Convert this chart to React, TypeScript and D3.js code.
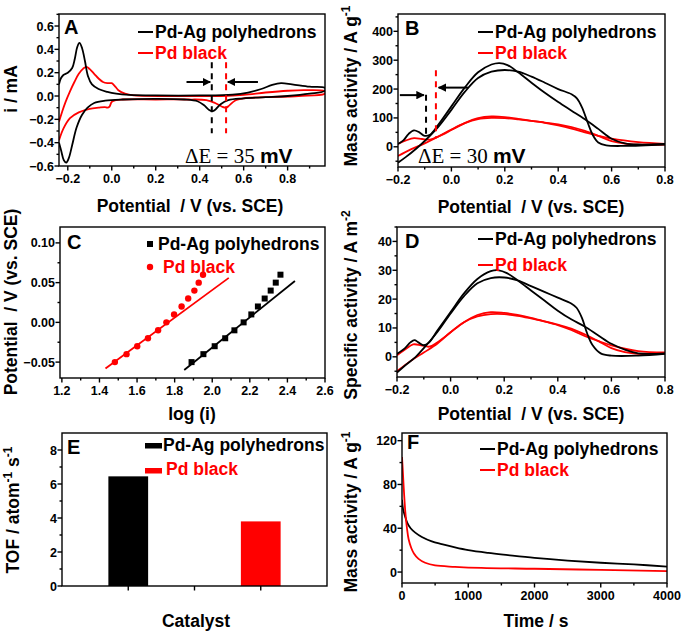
import React from "react";
import * as d3 from "d3";

type Pt = [number, number];

// ---------- A: cyclic voltammograms (i / mA vs potential)
const cvAgA: Pt[] = [
  [-0.24, 0.1], [-0.232, 0.15], [-0.22, 0.18], [-0.2, 0.2], [-0.18, 0.24], [-0.168, 0.32], [-0.157, 0.42],
  [-0.147, 0.455], [-0.135, 0.41], [-0.122, 0.3], [-0.108, 0.17], [-0.09, 0.1], [-0.06, 0.06], [-0.02, 0.035],
  [0.02, 0.02], [0.08, 0.01], [0.2, 0.005], [0.4, 0.005], [0.55, 0.012], [0.62, 0.03], [0.68, 0.06],
  [0.73, 0.095], [0.77, 0.11], [0.82, 0.1], [0.9, 0.08], [0.97, 0.07],
  [0.97, 0.045], [0.9, 0.02], [0.8, 0.0], [0.7, -0.01], [0.6, -0.02], [0.53, -0.035], [0.495, -0.07],
  [0.472, -0.115], [0.458, -0.13], [0.443, -0.12], [0.42, -0.08], [0.39, -0.045], [0.33, -0.03],
  [0.2, -0.025], [0.05, -0.03], [-0.03, -0.04], [-0.08, -0.06], [-0.11, -0.1], [-0.135, -0.16],
  [-0.16, -0.27], [-0.18, -0.42], [-0.195, -0.53], [-0.207, -0.57], [-0.218, -0.55], [-0.23, -0.47],
  [-0.24, -0.4],
];
const cvPdA: Pt[] = [
  [-0.24, -0.22], [-0.225, -0.13], [-0.21, -0.05], [-0.19, 0.04], [-0.17, 0.12], [-0.15, 0.19],
  [-0.13, 0.235], [-0.115, 0.25], [-0.1, 0.23], [-0.08, 0.19], [-0.06, 0.15], [-0.04, 0.12], [-0.02, 0.11],
  [0.0, 0.11], [0.012, 0.09], [0.03, 0.05], [0.06, 0.02], [0.1, 0.005], [0.3, 0.0], [0.5, 0.0], [0.6, 0.01],
  [0.7, 0.03], [0.8, 0.045], [0.88, 0.05], [0.97, 0.04],
  [0.97, 0.02], [0.85, 0.0], [0.7, -0.01], [0.6, -0.02], [0.56, -0.04], [0.535, -0.08], [0.52, -0.1],
  [0.5, -0.09], [0.47, -0.06], [0.43, -0.035], [0.35, -0.03], [0.2, -0.03], [0.05, -0.03], [0.02, -0.035],
  [0.0, -0.05], [-0.01, -0.09], [-0.02, -0.1], [-0.03, -0.095], [-0.06, -0.1], [-0.1, -0.11],
  [-0.15, -0.14], [-0.19, -0.19], [-0.22, -0.28], [-0.24, -0.38],
];

// ---------- B: mass activity vs potential
const maAgFwd: Pt[] = [
  [-0.2, 10], [-0.18, 22], [-0.16, 45], [-0.14, 57], [-0.12, 50], [-0.1, 38], [-0.08, 42], [-0.05, 75],
  [0.0, 140], [0.05, 205], [0.1, 258], [0.15, 285], [0.18, 290], [0.21, 283], [0.25, 258], [0.3, 222],
  [0.35, 187], [0.4, 155], [0.45, 125], [0.5, 95], [0.55, 62], [0.6, 28], [0.65, 12], [0.7, 8], [0.8, 10],
];
const maAgBwd: Pt[] = [
  [-0.2, -55], [-0.17, -35], [-0.13, -5], [-0.1, 20], [-0.05, 68], [0.0, 128], [0.05, 190], [0.1, 238],
  [0.15, 260], [0.2, 266], [0.25, 260], [0.3, 243], [0.35, 222], [0.4, 200], [0.45, 182], [0.47, 168],
  [0.49, 135], [0.51, 85], [0.53, 40], [0.55, 15], [0.58, 5], [0.65, 3], [0.8, 8],
];
const maPdFwd: Pt[] = [
  [-0.2, 10], [-0.17, 22], [-0.14, 30], [-0.11, 27], [-0.08, 25], [-0.05, 35], [0.0, 58], [0.05, 82],
  [0.1, 99], [0.15, 105], [0.2, 103], [0.25, 97], [0.3, 90], [0.35, 83], [0.4, 74], [0.45, 63], [0.5, 50],
  [0.55, 38], [0.6, 28], [0.7, 16], [0.8, 10],
];
const maPdBwd: Pt[] = [
  [-0.2, -32], [-0.15, -8], [-0.1, 12], [-0.05, 35], [0.0, 60], [0.05, 82], [0.1, 96], [0.15, 100],
  [0.2, 99], [0.25, 95], [0.3, 90], [0.35, 84], [0.4, 78], [0.45, 68], [0.5, 55], [0.55, 38], [0.6, 20],
  [0.65, 11], [0.7, 7], [0.8, 8],
];

// ---------- C: Tafel plots
const tafelY = [-0.05, -0.04, -0.03, -0.02, -0.01, 0.0, 0.01, 0.02, 0.03, 0.04, 0.05, 0.06];
const tafelAgX = [1.89, 1.953, 2.013, 2.069, 2.118, 2.167, 2.208, 2.243, 2.279, 2.311, 2.338, 2.363];
const tafelPdX = [1.482, 1.544, 1.601, 1.658, 1.712, 1.756, 1.797, 1.837, 1.872, 1.905, 1.928, 1.951];
const fitAg: Pt[] = [[1.851, -0.06], [2.44, 0.052]];
const fitPd: Pt[] = [[1.432, -0.058], [2.088, 0.056]];

// ---------- D: specific activity vs potential
const saAgFwd: Pt[] = [
  [-0.2, 1], [-0.17, 3], [-0.15, 5], [-0.135, 5.8], [-0.12, 5], [-0.1, 4], [-0.08, 5], [-0.05, 9],
  [0.0, 15.5], [0.05, 22], [0.1, 27], [0.15, 29.7], [0.18, 30], [0.21, 29], [0.25, 26.5], [0.3, 23],
  [0.35, 19.5], [0.4, 16], [0.45, 13], [0.5, 10.5], [0.55, 7.5], [0.6, 4.5], [0.65, 2.5], [0.7, 1.2], [0.8, 1.2],
];
const saAgBwd: Pt[] = [
  [-0.2, -5.5], [-0.17, -3], [-0.13, 0], [-0.1, 3], [-0.05, 8.5], [0.0, 15], [0.05, 21], [0.1, 25.5],
  [0.15, 27.3], [0.2, 27.5], [0.25, 26.5], [0.3, 24.5], [0.35, 22.5], [0.4, 20.5], [0.45, 18.5], [0.47, 17],
  [0.49, 13.5], [0.51, 8], [0.53, 4], [0.56, 1.2], [0.6, 0.4], [0.7, 0.4], [0.8, 1],
];
const saPdFwd: Pt[] = [
  [-0.2, 0.5], [-0.17, 2.5], [-0.14, 4.3], [-0.11, 4], [-0.08, 3.5], [-0.05, 5], [0.0, 8.5], [0.05, 12],
  [0.1, 14.5], [0.15, 15.5], [0.2, 15.2], [0.25, 14.5], [0.3, 13.5], [0.35, 12.3], [0.4, 11], [0.45, 9.3],
  [0.5, 7.2], [0.55, 5.5], [0.6, 4], [0.7, 2], [0.8, 1.5],
];
const saPdBwd: Pt[] = [
  [-0.2, -5], [-0.15, -1.5], [-0.1, 1.5], [-0.05, 4.5], [0.0, 8.5], [0.05, 12], [0.1, 14], [0.15, 14.8],
  [0.2, 14.8], [0.25, 14.2], [0.3, 13.3], [0.35, 12.3], [0.4, 11.2], [0.45, 9.8], [0.5, 7.8], [0.55, 5.5],
  [0.6, 3], [0.65, 1.6], [0.7, 1], [0.8, 1.2],
];

// ---------- E: TOF bars
const tofCats = ["Pd-Ag polyhedrons", "Pd black"];
const tofVals = [6.45, 3.8];
const tofPos = [1, 3];

// ---------- F: chronoamperometry
const caAg: Pt[] = [
  [0, 66], [15, 58], [40, 52], [80, 45], [130, 40], [200, 36], [300, 32], [450, 28], [600, 25.5],
  [800, 22.5], [1000, 20], [1300, 17.5], [1600, 15.5], [2000, 13], [2500, 10.5], [3000, 8.5], [3500, 7], [4000, 5],
];
const caPd: Pt[] = [
  [0, 105], [10, 95], [25, 78], [50, 55], [75, 40], [100, 30], [140, 22], [180, 17], [250, 12], [350, 8.5],
  [500, 6], [800, 4.8], [1200, 3.8], [2000, 3], [3000, 2], [4000, 0.8],
];

const potTicks = [-0.2, 0, 0.2, 0.4, 0.6, 0.8];

const FONT = "'Liberation Sans', Arial, Helvetica, sans-serif";
const RED = "#ff0000";
const LW = 1.8;

interface Box { l: number; r: number; t: number; b: number }

function minors(domain: number[], step: number) {
  const [a, b] = domain;
  const start = Math.ceil(a / step - 1e-9) * step;
  return d3.range(start, b + 1e-9, step);
}

function Frame(props: any) {
  const { id, box, x, y, xTicks, yTicks, xMinor, yMinor, xFmt, yFmt, children } = props;
  const sw = 1.4;
  return (
    <g>
      <clipPath id={id}>
        <rect x={box.l} y={box.t} width={box.r - box.l} height={box.b - box.t} />
      </clipPath>
      <g clipPath={`url(#${id})`}>{children}</g>
      <rect x={box.l} y={box.t} width={box.r - box.l} height={box.b - box.t} fill="none" stroke="#000" strokeWidth={sw} />
      {xMinor.map((v: number, i: number) => (
        <line key={"xm" + i} x1={x(v)} x2={x(v)} y1={box.b} y2={box.b + 2.5} stroke="#000" strokeWidth={sw} />
      ))}
      {xTicks.map((v: number, i: number) => (
        <line key={"xt" + i} x1={x(v)} x2={x(v)} y1={box.b} y2={box.b + 4.5} stroke="#000" strokeWidth={sw} />
      ))}
      {yMinor.map((v: number, i: number) => (
        <line key={"ym" + i} x1={box.l - 2.5} x2={box.l} y1={y(v)} y2={y(v)} stroke="#000" strokeWidth={sw} />
      ))}
      {yTicks.map((v: number, i: number) => (
        <line key={"yt" + i} x1={box.l - 4.5} x2={box.l} y1={y(v)} y2={y(v)} stroke="#000" strokeWidth={sw} />
      ))}
      {xFmt &&
        xTicks.map((v: number, i: number) => (
          <text key={"xl" + i} x={x(v)} y={box.b + 17} textAnchor="middle" fontSize={12.5} fontWeight="bold">
            {xFmt(v)}
          </text>
        ))}
      {yTicks.map((v: number, i: number) => (
        <text key={"yl" + i} x={box.l - 5} y={y(v)} dy="0.36em" textAnchor="end" fontSize={12.5} fontWeight="bold">
          {yFmt(v)}
        </text>
      ))}
    </g>
  );
}

function LineLegend({ x, y, label, color }: any) {
  return (
    <g>
      <line x1={x} x2={x + 15} y1={y} y2={y} stroke={color} strokeWidth={2} />
      <text x={x + 17} y={y + 6} fontSize={17.5} fontWeight="bold" fill={color}>{label}</text>
    </g>
  );
}

function YTitle({ x, y, children }: any) {
  return (
    <text transform={`translate(${x},${y}) rotate(-90)`} textAnchor="middle" fontSize={17.5} fontWeight="bold" style={{ whiteSpace: "pre" }}>
      {children}
    </text>
  );
}

function XTitle({ x, y, children }: any) {
  return (
    <text x={x} y={y} textAnchor="middle" fontSize={17.5} fontWeight="bold" style={{ whiteSpace: "pre" }}>
      {children}
    </text>
  );
}

function Letter({ x, y, children }: any) {
  return <text x={x} y={y} fontSize={20} fontWeight="bold">{children}</text>;
}

const fmt1 = d3.format(".1f");
const fmt2 = d3.format(".2f");
const fmt0 = d3.format("d");

export default function App() {
  const curve = d3.curveCatmullRom.alpha(0.5);

  // A
  const boxA: Box = { l: 59, r: 325, t: 14, b: 166 };
  const xA = d3.scaleLinear().domain([-0.24, 0.97]).range([boxA.l, boxA.r]);
  const yA = d3.scaleLinear().domain([-0.6, 0.703]).range([boxA.b, boxA.t]);
  const lineA = d3.line<Pt>().x((d) => xA(d[0])).y((d) => yA(d[1])).curve(curve);

  // B
  const boxB: Box = { l: 398, r: 665, t: 14, b: 167 };
  const xB = d3.scaleLinear().domain([-0.2, 0.8]).range([boxB.l, boxB.r]);
  const yB = d3.scaleLinear().domain([-70, 460]).range([boxB.b, boxB.t]);
  const lineB = d3.line<Pt>().x((d) => xB(d[0])).y((d) => yB(d[1])).curve(curve);

  // C
  const boxC: Box = { l: 60, r: 325, t: 227, b: 378 };
  const xC = d3.scaleLinear().domain([1.19, 2.6]).range([boxC.l, boxC.r]);
  const yC = d3.scaleLinear().domain([-0.07, 0.12]).range([boxC.b, boxC.t]);
  const lineC = d3.line<Pt>().x((d) => xC(d[0])).y((d) => yC(d[1]));

  // D
  const boxD: Box = { l: 397, r: 665, t: 227, b: 377 };
  const xD = d3.scaleLinear().domain([-0.2, 0.8]).range([boxD.l, boxD.r]);
  const yD = d3.scaleLinear().domain([-7, 45]).range([boxD.b, boxD.t]);
  const lineD = d3.line<Pt>().x((d) => xD(d[0])).y((d) => yD(d[1])).curve(curve);

  // E
  const boxE: Box = { l: 62, r: 327, t: 433, b: 586 };
  const xE = d3.scaleLinear().domain([0, 4]).range([boxE.l, boxE.r]);
  const yE = d3.scaleLinear().domain([0, 9]).range([boxE.b, boxE.t]);
  const barW = 0.6;

  // F
  const boxF: Box = { l: 402, r: 667, t: 433, b: 583 };
  const xF = d3.scaleLinear().domain([0, 4000]).range([boxF.l, boxF.r]);
  const yF = d3.scaleLinear().domain([-10, 127]).range([boxF.b, boxF.t]);
  const lineF = d3.line<Pt>().x((d) => xF(d[0])).y((d) => yF(d[1])).curve(curve);

  const within = (arr: number[], ticks: number[]) => arr.filter((v) => !ticks.some((t) => Math.abs(t - v) < 1e-6));

  return (
    <svg width={685} height={633} style={{ position: "absolute", left: 0, top: 0, background: "#fff" }} fontFamily={FONT}>
      <defs>
        <marker id="ah" viewBox="0 0 10 10" refX="9" refY="5" markerWidth="4.2" markerHeight="4.2" markerUnits="strokeWidth" orient="auto">
          <path d="M0,0 L10,5 L0,10 z" fill="#000" />
        </marker>
      </defs>
      <rect width={685} height={633} fill="#fff" />

      {/* ---------- Panel A ---------- */}
      <Frame id="cA" box={boxA} x={xA} y={yA} xTicks={potTicks} yTicks={[-0.6, -0.4, -0.2, 0, 0.2, 0.4, 0.6]}
        xMinor={within(minors([-0.24, 0.97], 0.1), potTicks)} yMinor={within(minors([-0.6, 0.7], 0.1), [-0.6, -0.4, -0.2, 0, 0.2, 0.4, 0.6])}
        xFmt={fmt1} yFmt={fmt1}>
        <path d={lineA(cvPdA) || ""} fill="none" stroke={RED} strokeWidth={LW} />
        <path d={lineA(cvAgA) || ""} fill="none" stroke="#000" strokeWidth={LW} />
        <line x1={xA(0.455)} x2={xA(0.455)} y1={yA(0.29)} y2={yA(-0.32)} stroke="#000" strokeWidth={2} strokeDasharray="6,5" />
        <line x1={xA(0.52)} x2={xA(0.52)} y1={yA(0.29)} y2={yA(-0.32)} stroke={RED} strokeWidth={2} strokeDasharray="6,5" />
        <line x1={xA(0.34)} x2={xA(0.448)} y1={yA(0.12)} y2={yA(0.12)} stroke="#000" strokeWidth={2} markerEnd="url(#ah)" />
        <line x1={xA(0.665)} x2={xA(0.528)} y1={yA(0.12)} y2={yA(0.12)} stroke="#000" strokeWidth={2} markerEnd="url(#ah)" />
      </Frame>
      <Letter x={64} y={34}>A</Letter>
      <LineLegend x={138} y={32} label="Pd-Ag polyhedrons" color="#000" />
      <LineLegend x={138} y={53} label="Pd black" color={RED} />
      <text x={185} y={163} fontSize={21}>
        <tspan fontFamily="'Liberation Serif', 'Times New Roman', serif">ΔE = 35 </tspan>
        <tspan fontWeight="bold">mV</tspan>
      </text>
      <YTitle x={17} y={89}>i / mA</YTitle>
      <XTitle x={190} y={212}>{"Potential  / V (vs. SCE)"}</XTitle>

      {/* ---------- Panel B ---------- */}
      <Frame id="cB" box={boxB} x={xB} y={yB} xTicks={potTicks} yTicks={[0, 100, 200, 300, 400]}
        xMinor={within(minors([-0.2, 0.8], 0.1), potTicks)} yMinor={within(minors([-70, 460], 50), [0, 100, 200, 300, 400])}
        xFmt={fmt1} yFmt={fmt0}>
        <path d={lineB(maPdFwd) || ""} fill="none" stroke={RED} strokeWidth={LW} />
        <path d={lineB(maPdBwd) || ""} fill="none" stroke={RED} strokeWidth={LW} />
        <path d={lineB(maAgFwd) || ""} fill="none" stroke="#000" strokeWidth={LW} />
        <path d={lineB(maAgBwd) || ""} fill="none" stroke="#000" strokeWidth={LW} />
        <line x1={xB(-0.095)} x2={xB(-0.095)} y1={yB(180)} y2={yB(30)} stroke="#000" strokeWidth={2} strokeDasharray="6,5" />
        <line x1={xB(-0.058)} x2={xB(-0.058)} y1={yB(265)} y2={yB(30)} stroke={RED} strokeWidth={2} strokeDasharray="6,5" />
        <line x1={xB(-0.193)} x2={xB(-0.103)} y1={yB(179)} y2={yB(179)} stroke="#000" strokeWidth={2} markerEnd="url(#ah)" />
        <line x1={xB(0.062)} x2={xB(-0.048)} y1={yB(205)} y2={yB(205)} stroke="#000" strokeWidth={2} markerEnd="url(#ah)" />
      </Frame>
      <Letter x={405} y={35}>B</Letter>
      <LineLegend x={478} y={32} label="Pd-Ag polyhedrons" color="#000" />
      <LineLegend x={478} y={53} label="Pd black" color={RED} />
      <text x={418} y={163} fontSize={21}>
        <tspan fontFamily="'Liberation Serif', 'Times New Roman', serif">ΔE = 30 </tspan>
        <tspan fontWeight="bold">mV</tspan>
      </text>
      <YTitle x={357} y={86}>
        Mass activity / A g<tspan dy={-7} fontSize={12}>-1</tspan>
      </YTitle>
      <XTitle x={531} y={213}>{"Potential  / V (vs. SCE)"}</XTitle>

      {/* ---------- Panel C ---------- */}
      <Frame id="cC" box={boxC} x={xC} y={yC} xTicks={[1.2, 1.4, 1.6, 1.8, 2.0, 2.2, 2.4, 2.6]} yTicks={[-0.05, 0, 0.05, 0.1]}
        xMinor={within(minors([1.19, 2.6], 0.1), [1.2, 1.4, 1.6, 1.8, 2.0, 2.2, 2.4, 2.6])} yMinor={within(minors([-0.07, 0.12], 0.025), [-0.05, 0, 0.05, 0.1])}
        xFmt={fmt1} yFmt={fmt2}>
        <path d={lineC(fitPd) || ""} fill="none" stroke={RED} strokeWidth={LW} />
        <path d={lineC(fitAg) || ""} fill="none" stroke="#000" strokeWidth={LW} />
        {tafelPdX.map((v, i) => (
          <circle key={"p" + i} cx={xC(v)} cy={yC(tafelY[i])} r={3.2} fill={RED} />
        ))}
        {tafelAgX.map((v, i) => (
          <rect key={"a" + i} x={xC(v) - 3} y={yC(tafelY[i]) - 3} width={6} height={6} fill="#000" />
        ))}
      </Frame>
      <Letter x={67} y={249}>C</Letter>
      <rect x={147} y={241} width={6} height={6} fill="#000" />
      <text x={158} y={250} fontSize={17.5} fontWeight="bold">Pd-Ag polyhedrons</text>
      <circle cx={150} cy={267} r={3.2} fill={RED} />
      <text x={163} y={273} fontSize={17.5} fontWeight="bold" fill={RED}>Pd black</text>
      <YTitle x={17} y={302}>{"Potential  / V (vs. SCE)"}</YTitle>
      <XTitle x={192} y={420}>log (i)</XTitle>

      {/* ---------- Panel D ---------- */}
      <Frame id="cD" box={boxD} x={xD} y={yD} xTicks={potTicks} yTicks={[0, 10, 20, 30, 40]}
        xMinor={within(minors([-0.2, 0.8], 0.1), potTicks)} yMinor={within(minors([-7, 45], 5), [0, 10, 20, 30, 40])}
        xFmt={fmt1} yFmt={fmt0}>
        <path d={lineD(saPdFwd) || ""} fill="none" stroke={RED} strokeWidth={LW} />
        <path d={lineD(saPdBwd) || ""} fill="none" stroke={RED} strokeWidth={LW} />
        <path d={lineD(saAgFwd) || ""} fill="none" stroke="#000" strokeWidth={LW} />
        <path d={lineD(saAgBwd) || ""} fill="none" stroke="#000" strokeWidth={LW} />
      </Frame>
      <Letter x={405} y={248}>D</Letter>
      <LineLegend x={478} y={239} label="Pd-Ag polyhedrons" color="#000" />
      <LineLegend x={478} y={265} label="Pd black" color={RED} />
      <YTitle x={357} y={305}>
        Specific activity / A m<tspan dy={-7} fontSize={12}>-2</tspan>
      </YTitle>
      <XTitle x={531} y={420}>{"Potential  / V (vs. SCE)"}</XTitle>

      {/* ---------- Panel E ---------- */}
      <Frame id="cE" box={boxE} x={xE} y={yE} xTicks={[1, 2, 3]} yTicks={[0, 2, 4, 6, 8]}
        xMinor={[]} yMinor={[1, 3, 5, 7]} xFmt={null} yFmt={fmt0}>
        {tofVals.map((v, i) => (
          <rect key={tofCats[i]} x={xE(tofPos[i] - barW / 2)} y={yE(v)} width={xE(barW) - xE(0)} height={yE(0) - yE(v)}
            fill={i === 0 ? "#000" : RED} />
        ))}
      </Frame>
      <Letter x={67} y={454}>E</Letter>
      <rect x={145} y={443} width={17} height={5.5} fill="#000" />
      <text x={163} y={451} fontSize={17.5} fontWeight="bold">{tofCats[0]}</text>
      <rect x={145} y={468} width={17} height={5.5} fill={RED} />
      <text x={166} y={475} fontSize={17.5} fontWeight="bold" fill={RED}>{tofCats[1]}</text>
      <YTitle x={19} y={510}>
        TOF / atom<tspan dy={-7} fontSize={12}>-1</tspan><tspan dy={7}> s</tspan><tspan dy={-7} fontSize={12}>-1</tspan>
      </YTitle>
      <XTitle x={196} y={627}>Catalyst</XTitle>

      {/* ---------- Panel F ---------- */}
      <Frame id="cF" box={boxF} x={xF} y={yF} xTicks={[0, 1000, 2000, 3000, 4000]} yTicks={[0, 40, 80, 120]}
        xMinor={[500, 1500, 2500, 3500]} yMinor={[20, 60, 100]} xFmt={fmt0} yFmt={fmt0}>
        <path d={lineF(caAg) || ""} fill="none" stroke="#000" strokeWidth={LW} />
        <path d={lineF(caPd) || ""} fill="none" stroke={RED} strokeWidth={LW} />
      </Frame>
      <Letter x={407} y={449}>F</Letter>
      <LineLegend x={480} y={449} label="Pd-Ag polyhedrons" color="#000" />
      <LineLegend x={480} y={470} label="Pd black" color={RED} />
      <YTitle x={357} y={512}>
        Mass activity / A g<tspan dy={-7} fontSize={12}>-1</tspan>
      </YTitle>
      <XTitle x={536} y={627}>Time / s</XTitle>
    </svg>
  );
}
